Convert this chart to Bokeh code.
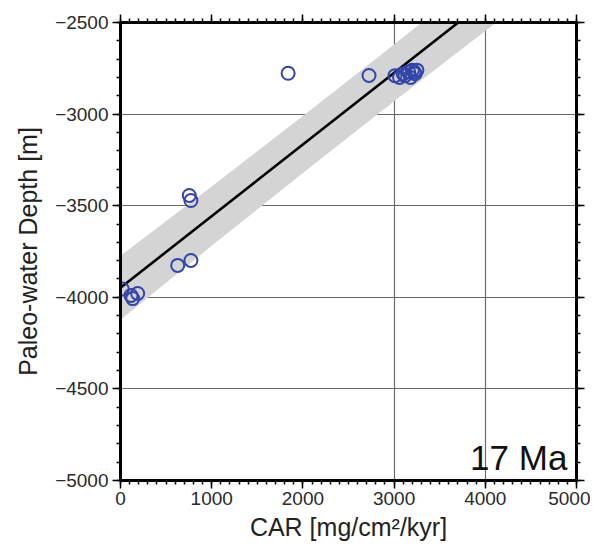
from bokeh.plotting import figure
from bokeh.models import LinearAxis, FixedTicker, Range1d, Label, ColumnDataSource
from bokeh.embed import file_html
from bokeh.resources import INLINE

# ---- data ----
car = [1838, 2725, 3010, 3060, 3100, 3120, 3160, 3180, 3200, 3220, 3230, 3250,
       754, 772, 627, 772, 115, 188, 134, 20]
depth = [-2777, -2789, -2790, -2800, -2780, -2790, -2770, -2800, -2760, -2770, -2780, -2760,
         -3444, -3472, -3826, -3799, -3990, -3979, -4007, -3955]

fit_x = [0, 5000]
fit_y = [-3948, -1993]

band_x = [0, 1000, 2000, 3000, 4000, 5000]
band_upper = [-3773, -3395, -3011, -2620, -2222, -1823]
band_lower = [-4123, -3719, -3321, -2930, -2546, -2163]

x_ticks = [0, 1000, 2000, 3000, 4000, 5000]
x_tick_labels = ["0", "1000", "2000", "3000", "4000", "5000"]
y_ticks = [-5000, -4500, -4000, -3500, -3000, -2500]
y_tick_labels = ["\u22125000", "\u22124500", "\u22124000", "\u22123500", "\u22123000", "\u22122500"]
x_minor = list(range(0, 5001, 100))
y_minor = list(range(-5000, -2499, 100))
x_grid = [3000, 4000]
y_grid = [-4500, -4000, -3500, -3000]

FONT = "Liberation Sans"

p = figure(width=590, height=545, output_backend="svg", toolbar_location=None,
           x_range=Range1d(0, 5000), y_range=Range1d(-5000, -2500),
           min_border_left=120, min_border_right=14, min_border_top=22, min_border_bottom=65,
           x_axis_label="CAR [mg/cm\u00b2/kyr]", y_axis_label="Paleo-water Depth [m]")

p.outline_line_color = "black"
p.outline_line_width = 3
p.background_fill_color = "white"
p.border_fill_color = "white"

p.xgrid.ticker = FixedTicker(ticks=x_grid)
p.ygrid.ticker = FixedTicker(ticks=y_grid)
for g in (p.xgrid, p.ygrid):
    g.grid_line_color = "#6a6a6a"
    g.grid_line_width = 1.2

# frame-only axes (ticks, no labels)
top = LinearAxis()
right = LinearAxis()
p.add_layout(top, "above")
p.add_layout(right, "right")

def style(ax, ticks, labels, minor, show_labels, label_standoff):
    ax.ticker = FixedTicker(ticks=ticks, minor_ticks=minor)
    if show_labels:
        ax.major_label_overrides = {t: l for t, l in zip(ticks, labels)}
    else:
        ax.major_label_overrides = {t: "" for t in ticks}
    ax.axis_line_color = "black"
    ax.axis_line_width = 3
    ax.major_tick_line_color = "black"
    ax.major_tick_line_width = 1.5
    ax.minor_tick_line_color = "black"
    ax.minor_tick_line_width = 1.5
    ax.major_tick_in = 0
    ax.major_tick_out = 8
    ax.minor_tick_in = 0
    ax.minor_tick_out = 4
    ax.major_label_text_font = FONT
    ax.major_label_text_font_size = "19px"
    ax.major_label_text_color = "#2a2a2a"
    ax.major_label_standoff = label_standoff if show_labels else 0
    ax.axis_label_text_font = FONT
    ax.axis_label_text_font_size = "25px"
    ax.axis_label_text_font_style = "normal"
    ax.axis_label_text_color = "#222222"

for ax in p.xaxis:
    style(ax, x_ticks, x_tick_labels, x_minor, ax is not top, 3)
    ax.axis_label_standoff = 5
for ax in p.yaxis:
    style(ax, y_ticks, y_tick_labels, y_minor, ax is not right, 4)
    ax.axis_label_standoff = 10

# band
p.varea(x=band_x, y1=band_lower, y2=band_upper, fill_color="#d4d4d4", fill_alpha=1.0)
# fit line
p.line(fit_x, fit_y, line_color="black", line_width=2.6)
# points
src = ColumnDataSource(dict(x=car, y=depth))
p.scatter("x", "y", source=src, marker="circle", size=13, fill_color=None,
          line_color="#3344aa", line_width=2)

p.add_layout(Label(x=4900, y=-4875, text="17 Ma", text_align="right",
                   text_baseline="alphabetic", text_font=FONT, text_font_size="35px",
                   text_color="#111111"))

open("out.html", "w").write(file_html(p, INLINE))
